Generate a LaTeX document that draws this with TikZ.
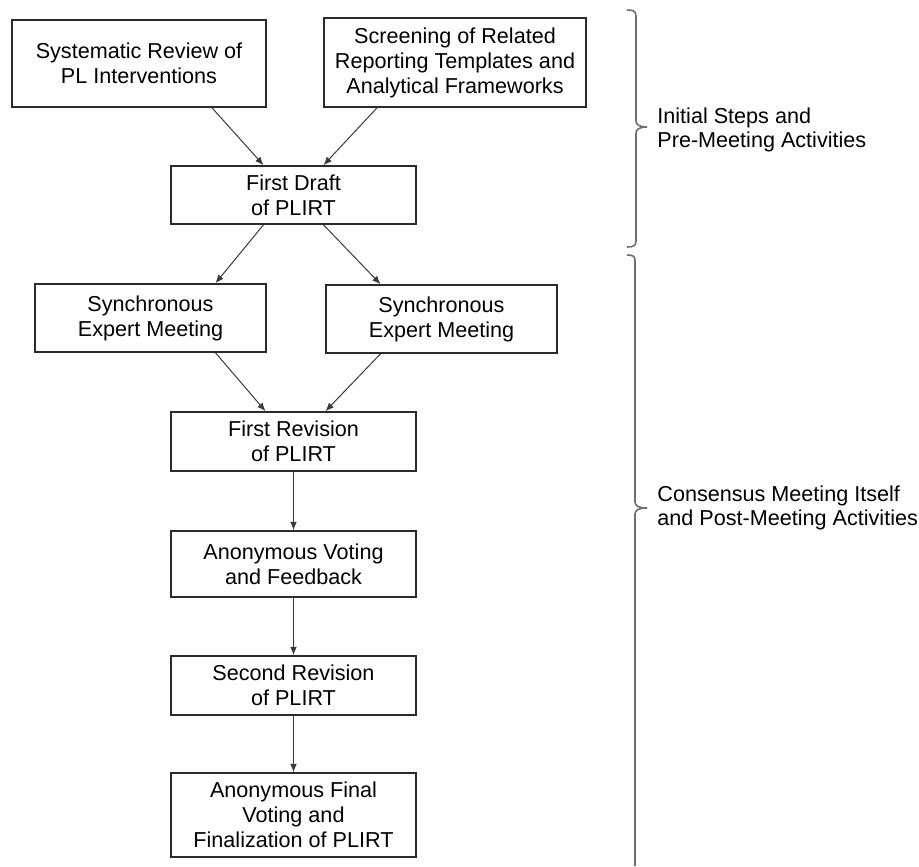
\documentclass[tikz,border=0pt]{standalone}
\usepackage{fontspec}
\setmainfont{Liberation Sans}
\usetikzlibrary{arrows.meta}

\definecolor{boxgray}{HTML}{2B2B2B}
\definecolor{arrowgray}{HTML}{3A3A3A}
\definecolor{bracegray}{HTML}{6E6E6E}

\tikzset{
  stepbox/.style={draw=boxgray, line width=0.8pt, align=center, inner sep=0pt,
    font=\fontsize{10.8}{12.5}\selectfont},
  flow/.style={draw=arrowgray, line width=0.5pt, -{Latex[length=4.2pt,width=3.4pt]}},
  bracket/.style={draw=bracegray, line width=0.8pt},
  phase/.style={anchor=west, align=left, inner sep=0pt, font=\fontsize{10.8}{12}\selectfont},
}

\begin{document}
\begin{tikzpicture}[x=0.5pt, y=-0.5pt]
        \useasboundingbox (0,0) rectangle (919,866);
        % pre-meeting boxes
        \node[stepbox, minimum width=127pt, minimum height=43.5pt] (review) at (139,63.5) {Systematic Review of\\PL Interventions};
        \node[stepbox, minimum width=131pt, minimum height=44.5pt] (screen) at (455,62.5) {Screening of Related\\Reporting Templates and\\Analytical Frameworks};
        \node[stepbox, minimum width=122.5pt, minimum height=29pt] (draft) at (293.5,195) {First Draft\\of PLIRT};
        % meeting and after
        \node[stepbox, minimum width=115.5pt, minimum height=34pt] (meetA) at (150.5,318) {Synchronous\\Expert Meeting};
        \node[stepbox, minimum width=115.5pt, minimum height=34pt] (meetB) at (441.5,319) {Synchronous\\Expert Meeting};
        \node[stepbox, minimum width=122.5pt, minimum height=29.5pt] (rev1) at (293.5,441.5) {First Revision\\of PLIRT};
        \node[stepbox, minimum width=122.5pt, minimum height=33pt] (vote) at (293.5,564) {Anonymous Voting\\and Feedback};
        \node[stepbox, minimum width=122.5pt, minimum height=29.5pt] (rev2) at (293.5,685.5) {Second Revision\\of PLIRT};
        \node[stepbox, minimum width=122.5pt, minimum height=42pt] (final) at (293.5,815) {Anonymous Final\\Voting and\\Finalization of PLIRT};
        % arrows
        \draw[flow] ([xshift=36.5pt]review.south) -- ([xshift=-15pt]draft.north);
        \draw[flow] ([xshift=-39pt]screen.south) -- ([xshift=15pt]draft.north);
        \draw[flow] ([xshift=-15pt]draft.south) -- ([xshift=32.5pt]meetA.north);
        \draw[flow] ([xshift=15pt]draft.south) -- ([xshift=-30.5pt]meetB.north);
        \draw[flow] ([xshift=32.5pt]meetA.south) -- ([xshift=-14pt]rev1.north);
        \draw[flow] ([xshift=-30.5pt]meetB.south) -- ([xshift=16pt]rev1.north);
        \draw[flow] (rev1) -- (vote);
        \draw[flow] (vote) -- (rev2);
        \draw[flow] (rev2) -- (final);
        % braces
        \draw[bracket] (627,10) .. controls (633,10) and (636,11) .. (636,16) -- (636,121)
          .. controls (636,125) and (640,127) .. (647,127) coordinate (tipA)
          .. controls (640,127) and (636,129) .. (636,133) -- (636,241)
          .. controls (636,246) and (633,247) .. (627,247);
        \draw[bracket] (627,255) .. controls (633,255) and (635,256) .. (635,261) -- (635,502)
          .. controls (635,506) and (639,508) .. (647,508) coordinate (tipB)
          .. controls (639,508) and (635,510) .. (635,514) -- (635,866);
        % labels
        \node[phase] (prelabel) at ([xshift=5pt,yshift=-1.5pt]tipA) {Initial Steps and\\Pre-Meeting Activities};
        \node[phase] (postlabel) at ([xshift=5pt]tipB) {Consensus Meeting Itself\\and Post-Meeting Activities};
    \end{tikzpicture}
\end{document}
